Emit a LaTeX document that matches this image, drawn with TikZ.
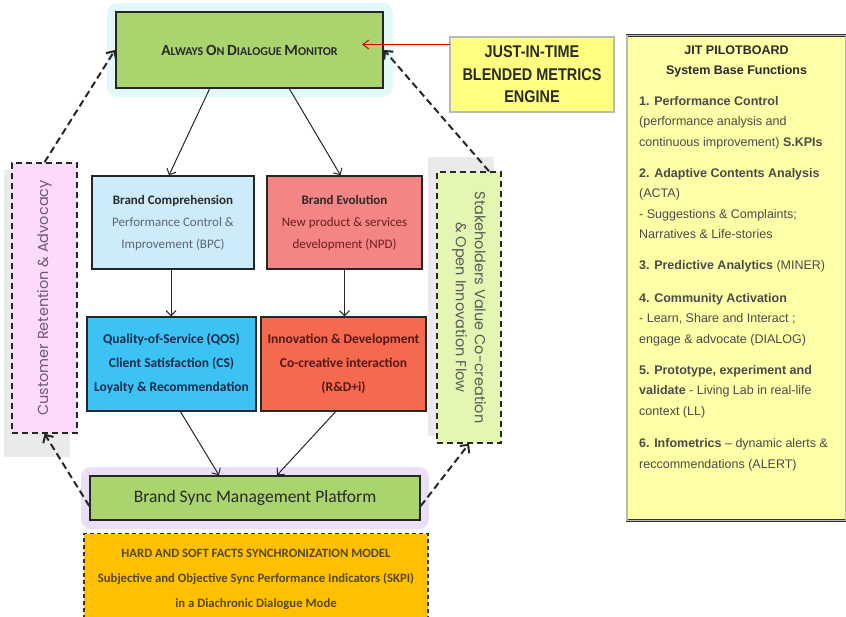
\documentclass[tikz,border=0pt]{standalone}
\usepackage{fontspec}
\setmainfont{Carlito}
\newfontfamily\panelfont[Ligatures=TeX]{Liberation Sans}
\newfontfamily\jitfont[FakeStretch=0.85]{Liberation Sans}
\newfontfamily\roundfont{Poppins}
\usetikzlibrary{arrows.meta}
\definecolor{monitorc}{HTML}{A9D46E}
\definecolor{glowc}{HTML}{E2F8FB}
\definecolor{syncglowc}{HTML}{EADFF6}
\definecolor{jitc}{HTML}{FFFF80}
\definecolor{panelc}{HTML}{FFFFA8}
\definecolor{compc}{HTML}{CDEBFB}
\definecolor{evolc}{HTML}{F38585}
\definecolor{qosc}{HTML}{3CC3F3}
\definecolor{innoc}{HTML}{F5694F}
\definecolor{custc}{HTML}{FDD9FC}
\definecolor{stakec}{HTML}{E4F7B2}
\definecolor{factsc}{HTML}{FFC000}
\definecolor{shadowc}{HTML}{EAEAEA}
\definecolor{inkc}{HTML}{2A2A2A}
\definecolor{greyinkc}{HTML}{5C6676}
\definecolor{redinkc}{HTML}{6A1E1E}
\definecolor{navyinkc}{HTML}{1C2A4A}
\definecolor{custinkc}{HTML}{6E5A70}
\tikzset{
  box/.style={draw=black!85, line width=1.5pt, align=center, inner sep=0pt},
  dbox/.style={draw=black!80, line width=0.9pt, double=gray!55, double distance=1.1pt, align=center, inner sep=0pt},
  sidebox/.style={draw=black!85, line width=1.5pt, dash pattern=on 6pt off 4pt},
  flow/.style={-{Straight Barb[length=5pt,width=10pt]}, line width=1pt, black!85},
  loop/.style={-{Straight Barb[length=6pt,width=12pt]}, line width=2pt, dash pattern=on 7pt off 4pt, black!85},
  feed/.style={-{Straight Barb[length=6pt,width=9pt]}, line width=1pt, red!85!black},
}
\newcommand\capa[1]{{\fontsize{15.5}{17}\selectfont #1}}
\begin{document}
\begin{tikzpicture}[x=1pt,y=-1pt]
\useasboundingbox (0,0) rectangle (846,616);
% glows and shadows
\fill[glowc, rounded corners=10pt] (107,3) rectangle (393,97);
\fill[syncglowc, rounded corners=10pt] (81,467) rectangle (429,529);
\fill[shadowc] (4,170) rectangle (70,457);
\fill[shadowc] (428,157) rectangle (494,436);

% top row
\node[box, fill=monitorc, line width=2pt, minimum width=267, minimum height=76,
  font=\bfseries\fontsize{12}{14}\selectfont, text=inkc] (monitor) at (249.5,50)
  {\capa{A}LWAYS \capa{O}N \capa{D}IALOGUE \capa{M}ONITOR};
\node[dbox, fill=jitc, minimum width=164, minimum height=75,
  font=\jitfont\bfseries\fontsize{17}{22.5}\selectfont, text=inkc] (jit) at (532,74.5)
  {JUST-IN-TIME\\BLENDED METRICS\\ENGINE};
\coordinate (jittip) at (362,44.5);

% pilot board
\node[dbox, fill=panelc, minimum width=219, minimum height=485, anchor=north] (pilot) at (736.5,35) {};
\node[font=\panelfont\bfseries\fontsize{12.5}{20}\selectfont, text=inkc, align=center, anchor=north]
  (pilothead) at (736.5,42) {JIT PILOTBOARD\\System Base Functions};
\node[font=\panelfont\fontsize{12.5}{20.5}\selectfont, text=inkc!85, align=left, anchor=north west, inner sep=0pt]
  (pilotbody) at (639,96)
  {\textbf{1. Performance Control}\\
   (performance analysis and\\
   continuous improvement) \textbf{S.KPIs}\\[10.5pt]
   \textbf{2. Adaptive Contents Analysis}\\
   (ACTA)\\
   - Suggestions \& Complaints;\\
   Narratives \& Life-stories\\[10.5pt]
   \textbf{3. Predictive Analytics} (MINER)\\[12pt]
   \textbf{4. Community Activation}\\
   - Learn, Share and Interact ;\\
   engage \& advocate (DIALOG)\\[10.5pt]
   \textbf{5. Prototype, experiment and}\\
   \textbf{validate} - Living Lab in real-life\\
   context (LL)\\[12pt]
   \textbf{6. Infometrics} – dynamic alerts \&\\
   reccommendations (ALERT)};

% middle boxes
\node[box, fill=compc, minimum width=162, minimum height=93,
  font=\fontsize{13}{22}\selectfont, text=greyinkc] (comp) at (173,222.5)
  {\textcolor{inkc}{\bfseries Brand Comprehension}\\Performance Control \&\\Improvement (BPC)};
\node[box, fill=evolc, minimum width=155, minimum height=93,
  font=\fontsize{13}{22}\selectfont, text=redinkc] (evol) at (344.5,222.5)
  {\textcolor{inkc}{\bfseries Brand Evolution}\\New product \& services\\development (NPD)};
\node[box, fill=qosc, minimum width=169, minimum height=94,
  font=\bfseries\fontsize{13.5}{24}\selectfont, text=navyinkc] (qos) at (171.5,364)
  {Quality-of-Service (QOS)\\Client Satisfaction (CS)\\Loyalty \& Recommendation};
\node[box, fill=innoc, minimum width=165, minimum height=94,
  font=\bfseries\fontsize{13.5}{24}\selectfont, text=redinkc!80!black] (inno) at (343.5,364)
  {Innovation \& Development\\Co-creative interaction\\(R\&D+i)};

% side loops
\node[sidebox, fill=custc, minimum width=65, minimum height=270] (cust) at (44.5,298) {};
\node[rotate=90, font=\roundfont\fontsize{14.5}{16}\selectfont, text=custinkc] (custtext) at (cust)
  {Customer Retention \& Advocacy};
\node[sidebox, fill=stakec, minimum width=64, minimum height=271] (stake) at (469,307.5) {};
\node[rotate=-90, align=center, font=\roundfont\fontsize{14.5}{19}\selectfont, text=black!65] (staketext) at (stake)
  {Stakeholders Value Co-creation\\\& Open Innovation Flow};

% bottom
\node[box, fill=monitorc, minimum width=330, minimum height=44,
  font=\fontsize{17.5}{20}\selectfont, text=inkc] (sync) at (255,498)
  {Brand Sync Management Platform};
\node[draw=black!80, line width=1.3pt, dash pattern=on 4pt off 3pt, fill=factsc,
  minimum width=344, minimum height=92, anchor=north, align=center,
  font=\bfseries\fontsize{12.7}{25}\selectfont, text=inkc!80!factsc] (facts) at (256,533)
  {HARD AND SOFT FACTS SYNCHRONIZATION MODEL\\
   Subjective and Objective Sync Performance Indicators (SKPI)\\
   in a Diachronic Dialogue Mode};

% connectors
\draw[feed] ([yshift=30pt]jit.west) -- (jittip);
\draw[flow] ([xshift=-40pt]monitor.south) -- ([xshift=-4pt]comp.north);
\draw[flow] ([xshift=40pt]monitor.south) -- ([xshift=-4pt]evol.north);
\draw[flow] ([xshift=-2pt]comp.south) -- ([xshift=-2pt]comp.south |- qos.north);
\draw[flow] (evol.south) -- (evol.south |- inno.north);
\draw[flow] ([xshift=9pt]qos.south) -- ([xshift=-36pt]sync.north);
\draw[flow] ([xshift=-8pt]inno.south) -- ([xshift=22pt]sync.north);
\draw[loop] (cust.north) -- (monitor.west);
\draw[loop] ([xshift=20pt]stake.north) -- (monitor.east);
\draw[loop] ([yshift=-8pt]sync.west) -- (cust.south);
\draw[loop] ([yshift=-8pt]sync.east) -- (stake.south);
\end{tikzpicture}
\end{document}
